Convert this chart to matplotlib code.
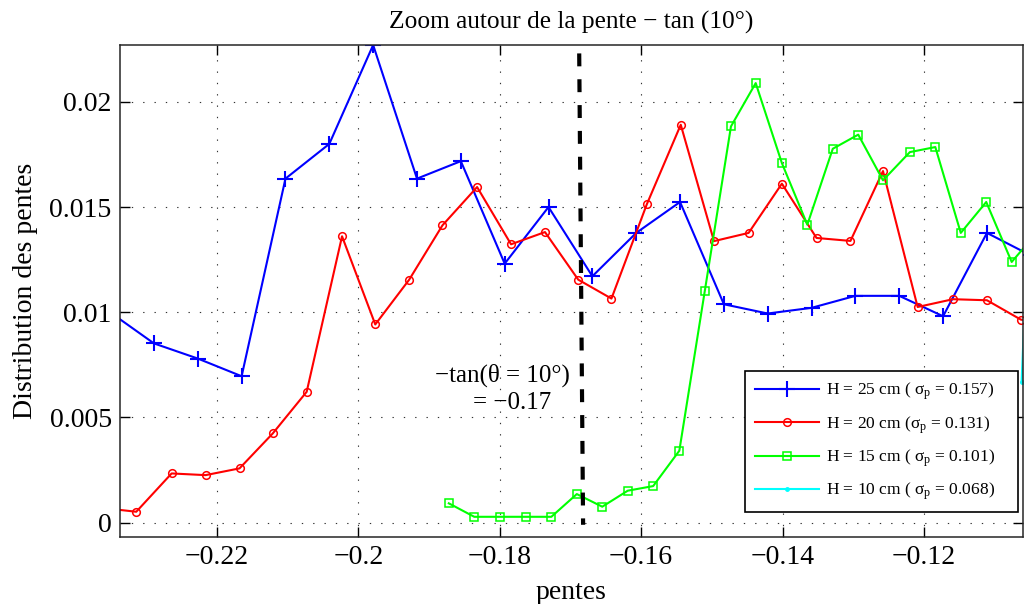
import matplotlib
matplotlib.use("Agg")
import matplotlib.pyplot as plt

plt.rcParams['font.family'] = ['Liberation Serif', 'DejaVu Serif']
plt.rcParams['mathtext.fontset'] = 'custom'
plt.rcParams['mathtext.rm'] = 'Liberation Serif'
plt.rcParams['mathtext.it'] = 'Liberation Serif:italic'

# H = 25 cm
x25 = [-0.2351, -0.2289, -0.2227, -0.2165, -0.2103, -0.2041, -0.1979, -0.1917,
       -0.1855, -0.1793, -0.1731, -0.1669, -0.1607, -0.1545, -0.1483, -0.1421,
       -0.1359, -0.1297, -0.1235, -0.1173, -0.1111, -0.1049]
y25 = [0.0100, 0.00852, 0.00780, 0.00696, 0.01635, 0.0180, 0.0227, 0.01635,
       0.01718, 0.01231, 0.0150, 0.01171, 0.01377, 0.01524, 0.01038, 0.00994,
       0.01021, 0.01078, 0.01078, 0.00981, 0.01377, 0.0127]

# H = 20 cm
x20 = [-0.2362, -0.2314, -0.2264, -0.2216, -0.2168, -0.2121, -0.2073, -0.2023,
       -0.1976, -0.1928, -0.1881, -0.1832, -0.1784, -0.1736, -0.1689, -0.1642,
       -0.1592, -0.1544, -0.1497, -0.1448, -0.1401, -0.1352, -0.1304, -0.1258,
       -0.1209, -0.1159, -0.1111, -0.1063, -0.1015]
y20 = [0.0007, 0.00052, 0.00234, 0.00226, 0.00258, 0.00424, 0.00622, 0.01361,
       0.00942, 0.01155, 0.01413, 0.01595, 0.01323, 0.01381, 0.01155, 0.01065,
       0.01513, 0.01891, 0.01338, 0.01377, 0.01611, 0.01353, 0.01339, 0.01671,
       0.01025, 0.01062, 0.01057, 0.00965, 0.0094]

# H = 15 cm
x15 = [-0.1872, -0.1836, -0.1800, -0.1763, -0.1727, -0.1691, -0.1655, -0.1619,
       -0.1583, -0.1546, -0.1510, -0.1473, -0.1438, -0.1401, -0.1365, -0.1329,
       -0.1293, -0.1258, -0.1220, -0.1184, -0.1148, -0.1112, -0.1076, -0.1040]
y15 = [0.00092, 0.00028, 0.00028, 0.00028, 0.00028, 0.00136, 0.00076, 0.00152,
       0.00174, 0.00342, 0.01101, 0.01883, 0.02089, 0.01709, 0.01416, 0.01777,
       0.01844, 0.01627, 0.01761, 0.01785, 0.01377, 0.01524, 0.01239, 0.0138]

# H = 10 cm
x10 = [-0.1062, -0.1040]
y10 = [0.0067, 0.0240]

labels = ['H = 25 cm ( $\\mathrm{\\sigma}_\\mathrm{p}$ = 0.157)',
          'H = 20 cm ($\\mathrm{\\sigma}_\\mathrm{p}$ = 0.131)',
          'H = 15 cm ( $\\mathrm{\\sigma}_\\mathrm{p}$ = 0.101)',
          'H = 10 cm ( $\\mathrm{\\sigma}_\\mathrm{p}$ = 0.068)']

slope_x = [-0.16876, -0.16821]
slope_y = [0.0223, -0.0001]

xticks = [-0.22, -0.20, -0.18, -0.16, -0.14, -0.12]
xticklabels = ['\u22120.22', '\u22120.2', '\u22120.18', '\u22120.16', '\u22120.14', '\u22120.12']
yticks = [0, 0.005, 0.01, 0.015, 0.02]
yticklabels = ['0', '0.005', '0.01', '0.015', '0.02']

fig = plt.figure(figsize=(10.25, 6.04), dpi=100)
ax = fig.add_axes([120 / 1025, 67 / 604, 903 / 1025, 492 / 604])

ax.plot(x25, y25, color=(0, 0, 1), lw=1.5, marker='+', ms=11, mew=1.5, label=labels[0])
ax.plot(x20, y20, color=(1, 0, 0), lw=1.5, marker='o', ms=5.5, mfc='none', mew=1.1, label=labels[1])
ax.plot(x15, y15, color=(0, 1, 0), lw=1.5, marker='s', ms=5.5, mfc='none', mew=1.1, label=labels[2])
ax.plot(x10, y10, color=(0, 1, 1), lw=1.5, marker='.', ms=5, label=labels[3])

ax.plot(slope_x, slope_y, color='k', lw=3, ls=(0, (3.1, 3.1)))

ax.text(-0.1796, 0.0070, '\u2212tan(\u03b8 = 10\u00b0)', fontsize=18, ha='center', va='center')
ax.text(-0.1782, 0.0057, '= \u22120.17', fontsize=18, ha='center', va='center')

ax.set_xlim(-0.2337, -0.1060)
ax.set_ylim(-0.00068, 0.0227)
ax.set_xticks(xticks)
ax.set_xticklabels(xticklabels)
ax.set_yticks(yticks)
ax.set_yticklabels(yticklabels)
ax.tick_params(direction='in', length=7, width=1, top=True, right=True, labelsize=20, pad=6)
ax.grid(True, color='0.2', lw=0.8, ls=(0, (1.2, 9)))
for s in ax.spines.values():
    s.set_linewidth(1.1)
    s.set_color('0.15')

ax.set_xlabel('pentes', fontsize=20, labelpad=7)
ax.set_ylabel('Distribution des pentes', fontsize=20, labelpad=8)
ax.set_title('Zoom autour de la pente \u2212 tan (10\u00b0)', fontsize=18.3, pad=12)

leg = ax.legend(loc='lower left', bbox_to_anchor=(0.6921, 0.0508, 0.3023, 0.2846),
                mode='expand', fontsize=12.5,
                fancybox=False, framealpha=1, edgecolor='k', handlelength=3.7,
                borderpad=0.55, labelspacing=0.68, handletextpad=0.4, borderaxespad=0)
leg.get_frame().set_linewidth(1.2)

fig.savefig('out.png', dpi=100)
